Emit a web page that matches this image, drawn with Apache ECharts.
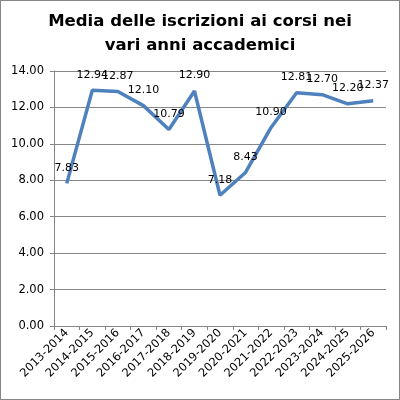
<!DOCTYPE html>
<html><head><meta charset="utf-8">
<script src="https://cdn.jsdelivr.net/npm/echarts@6/dist/echarts.min.js"></script>
<style>html,body{margin:0;padding:0;background:#fff}#c{width:398px;height:398px;border:1px solid #868686}</style>
</head><body><div id="c"></div>
<script>
const titleText = 'Media delle iscrizioni ai corsi nei\nvari anni accademici';
const categories = ['2013-2014','2014-2015','2015-2016','2016-2017','2017-2018','2018-2019','2019-2020','2020-2021','2021-2022','2022-2023','2023-2024','2024-2025','2025-2026'];
const values = [7.83, 12.94, 12.87, 12.10, 10.79, 12.90, 7.18, 8.43, 10.90, 12.81, 12.70, 12.20, 12.37];
const yMin = 0, yMax = 14, yStep = 2;

const chart = echarts.init(document.getElementById('c'), null, {renderer:'canvas'});
const font = 'DejaVu Sans';
chart.setOption({
  animation:false,
  title:{text:titleText,left:'center',top:4,textStyle:{fontFamily:font,fontWeight:'bold',fontSize:16.5,lineHeight:24,color:'#000'}},
  grid:{left:53,right:13,top:70,bottom:73},
  xAxis:{type:'category',data:categories,boundaryGap:true,
    axisLine:{lineStyle:{color:'#868686',width:1}},
    axisTick:{show:true,length:4,lineStyle:{color:'#868686'}},
    axisLabel:{rotate:45,interval:0,fontFamily:font,fontSize:11.5,color:'#000',margin:5}},
  yAxis:{type:'value',min:yMin,max:yMax,interval:yStep,
    axisLine:{show:true,lineStyle:{color:'#868686',width:1}},
    axisTick:{show:true,length:4,lineStyle:{color:'#868686'}},
    splitLine:{lineStyle:{color:'#868686',width:1}},
    axisLabel:{formatter:v=>v.toFixed(2),fontFamily:font,fontSize:11.5,color:'#000',margin:10}},
  series:[{type:'line',data:values,symbol:'circle',symbolSize:2,showSymbol:true,
    itemStyle:{color:'rgba(0,0,0,0)',borderWidth:0},
    lineStyle:{color:'#4F81BD',width:3.5},
    label:{show:true,position:'top',distance:9,formatter:p=>p.value.toFixed(2),fontFamily:font,fontSize:11,color:'#000'},
    labelLayout:{hideOverlap:false}}]
});
</script></body></html>
